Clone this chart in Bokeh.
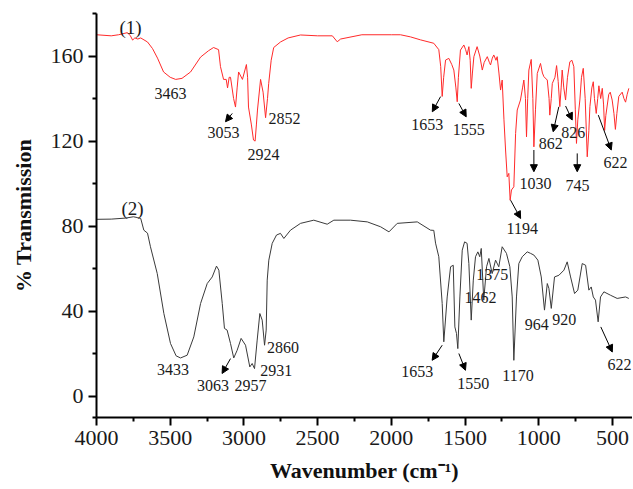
from bokeh.plotting import figure
from bokeh.models import Range1d, FixedTicker, ColumnDataSource, Arrow, NormalHead
from bokeh.core.properties import value
from bokeh.embed import file_html
from bokeh.resources import INLINE

# ---- spectrum (1), red ----
wn1 = [4000, 3900, 3850, 3790, 3770, 3755, 3740, 3720, 3700, 3654, 3620, 3586, 3545, 3500, 3463,
       3420, 3362, 3294, 3240, 3206, 3172, 3159, 3138, 3120, 3111, 3100, 3091, 3070, 3057, 3046,
       3036, 3010, 2983, 2975, 2969, 2950, 2935, 2924, 2915, 2908, 2887, 2870, 2853, 2840, 2832,
       2815, 2798, 2752, 2700, 2616, 2500, 2400, 2367, 2344, 2200, 2000, 1938, 1870, 1802, 1712,
       1678, 1665, 1655, 1645, 1632, 1610, 1590, 1576, 1562, 1553, 1545, 1531, 1508, 1496, 1486,
       1474, 1465, 1458, 1450, 1440, 1418, 1400, 1383, 1370, 1349, 1335, 1327, 1315, 1305, 1290,
       1282, 1270, 1259, 1248, 1236, 1225, 1214, 1203, 1194, 1185, 1169, 1157, 1146, 1124, 1110,
       1101, 1090, 1083, 1075, 1067, 1051, 1040, 1033, 1022, 1010, 988, 975, 965, 942, 930,
       925, 915, 908, 890, 879, 868, 857, 848, 841, 830, 818, 805, 789, 775, 762,
       752, 744, 735, 721, 710, 698, 685, 671, 660, 653, 640, 630, 622, 610, 600,
       592, 580, 569, 560, 553, 545, 525, 515, 502, 490, 480, 470, 457, 434, 422,
       411, 400, 389]
t1 = [170, 169.5, 170, 171, 169.5, 167.5, 168.5, 168, 168.5, 166.6, 163.5, 159, 152.5, 150, 149,
      149.5, 152.5, 159.5, 162.5, 164, 163, 155, 149, 149, 145, 150, 150, 140, 136, 145,
      152.5, 149, 156, 150, 136, 128, 120.5, 120, 128, 134.6, 149, 143, 131, 140, 147,
      158, 164, 166.6, 168.5, 169.9, 169.5, 169.5, 166.7, 168, 170, 170, 170, 169, 167.6, 166,
      163, 155, 141, 150, 158.1, 158.9, 156, 153.4, 145, 138.5, 150, 162.8, 165.2, 163, 160.5,
      164.4, 158, 144.8, 152, 159.7, 164.4, 160, 153.4, 157, 159.7, 157, 155.8, 159, 160.5, 158,
      159.7, 152, 144, 148.7, 130, 115.8, 103.2, 104.8, 92.2, 97, 98.5, 123.6, 134.6, 139.3, 145,
      148.7, 140, 122, 140, 153.4, 158.4, 140, 117.3, 135, 151.8, 156.5, 152, 150.3, 148.7, 140,
      132.2, 140, 147.1, 150, 155.5, 148, 136.2, 145, 153.4, 145, 139.3, 150, 157.3, 158, 155,
      135, 118.9, 130, 139.3, 150, 154.2, 140, 112.6, 125, 136.2, 145, 147.9, 140, 133, 140,
      146, 140, 144.8, 137, 125, 132, 142, 143, 139.3, 133, 125.5, 133, 141, 143, 140,
      138.3, 142, 144.8]

# ---- spectrum (2), black ----
wn2 = [4000, 3900, 3800, 3750, 3720, 3700, 3679, 3654, 3634, 3588, 3543, 3498, 3460, 3430, 3385,
       3340, 3294, 3249, 3215, 3186, 3170, 3147, 3132, 3114, 3091, 3069, 3046, 3019, 2989, 2960,
       2944, 2928, 2910, 2892, 2876, 2860, 2849, 2842, 2831, 2808, 2779, 2752, 2729, 2684, 2616,
       2526, 2435, 2390, 2277, 2163, 2073, 2016, 1960, 1824, 1734, 1712, 1700, 1678, 1655, 1644,
       1621, 1598, 1580, 1569, 1558, 1549, 1535, 1519, 1503, 1486, 1474, 1458, 1444, 1429, 1413,
       1400, 1390, 1373, 1354, 1338, 1316, 1293, 1271, 1248, 1219, 1196, 1180, 1169, 1151, 1135,
       1112, 1078, 1056, 1033, 1006, 983, 961, 942, 931, 915, 893, 863, 829, 807, 784,
       757, 735, 705, 682, 660, 644, 630, 615, 597, 581, 558, 513, 468, 411, 389]
t2 = [83.2, 83.3, 83.8, 84.4, 84, 83.6, 78.1, 76.7, 70.3, 57.7, 38.9, 24.8, 19, 18, 19.3,
      27.9, 43.6, 53, 56.1, 61.2, 59.3, 43.6, 31.9, 31.1, 24.8, 18, 21.6, 27.2, 24, 13.8,
      15.4, 13, 26.4, 38.9, 35.8, 24, 31.1, 54.6, 64, 71.9, 75.8, 76.6, 74.2, 78.1, 81.3,
      82.8, 80.9, 82.8, 82.8, 82, 79.7, 77.3, 81.3, 82, 78.1, 78, 72, 65.6, 43.6, 25.6,
      46.7, 60.9, 61.6, 32.6, 29.5, 22.4, 46.7, 68.7, 72.6, 71.9, 62.4, 35.8, 54.6, 65.6, 67.9,
      65.6, 69.5, 45.2, 60.9, 64.8, 57.7, 64, 60.9, 70.3, 67.2, 60.9, 46.7, 16.9, 46.7, 62.4,
      65.6, 67.9, 67.2, 66.4, 64, 56.1, 40.5, 53, 50.7, 41.3, 56.1, 56.9, 59.3, 63.2, 56.1,
      48.3, 49.9, 62.4, 61.6, 49.9, 51.4, 46.7, 45.2, 35, 46.7, 49.1, 47.5, 46, 46.7, 46]

# ---- peak labels ----
lab_text = ["3463", "3053", "2924", "2852", "1653", "1555", "1194", "1030", "862", "826", "745", "622",
            "3433", "3063", "2957", "2931", "2860", "1653", "1550", "1462", "1375", "1170", "964", "920", "622"]
lab_x = [3498, 3138, 2867, 2725, 1757, 1474, 1112, 1022, 918, 766, 737, 479,
         3481, 3210, 2955, 2780, 2735, 1825, 1445, 1395, 1316, 1141, 1013, 827, 452]
lab_y = [142.6, 123.8, 113.9, 130.4, 128, 125.6, 79, 100, 118.9, 124, 99.3, 110,
         12.7, 5.2, 5.2, 12.2, 23, 11.4, 5.9, 46.4, 57.4, 9.9, 33.9, 36.2, 15]

# ---- arrows (start -> end) ----
arr_x0 = [3079, 1666, 1542, 1191, 1033, 864, 818, 739, 596, 3091, 1655, 1542, 579]
arr_y0 = [133.0, 140.9, 137.7, 92.2, 115.8, 136.1, 136.5, 114.2, 132.2, 17.7, 24.0, 20.1, 32.6]
arr_x1 = [3125, 1722, 1492, 1123, 1033, 902, 773, 739, 508, 3148, 1723, 1497, 501]
arr_y1 = [129.1, 133.8, 131.4, 83.6, 105.6, 124.4, 129.9, 105.6, 115.8, 10.7, 16.9, 12.2, 20.8]

# ---- series tags ----
tag_text = ["(1)", "(2)"]
tag_x = [3769, 3756]
tag_y = [173.2, 88.5]

x_ticks = [4000, 3500, 3000, 2500, 2000, 1500, 1000, 500]
x_minor = [3750, 3250, 2750, 2250, 1750, 1250, 750]
y_ticks = [0, 40, 80, 120, 160]
y_minor = [-10, 20, 60, 100, 140, 180]

SERIF = "Liberation Serif"

p = figure(frame_width=536, frame_height=404,
           x_range=Range1d(4000, 364), y_range=Range1d(-10, 180),
           output_backend="svg", toolbar_location=None,
           min_border_left=96, min_border_right=0, min_border_top=13, min_border_bottom=72)
p.outline_line_color = None
p.xgrid.visible = False
p.ygrid.visible = False
p.background_fill_color = "white"
p.border_fill_color = "white"

p.line(wn1, t1, line_color="#ff2a2a", line_width=1)
p.line(wn2, t2, line_color="#3a3a3a", line_width=1)

p.text(x=lab_x, y=lab_y, text=lab_text, text_font=value(SERIF), text_font_size="16px",
       text_align="center", text_baseline="middle", text_color="#1a1a1a")
p.text(x=tag_x, y=tag_y, text=tag_text, text_font=value(SERIF), text_font_size="19px",
       text_align="center", text_baseline="middle", text_color="#1a1a1a")

asrc = ColumnDataSource(dict(x0=arr_x0, y0=arr_y0, x1=arr_x1, y1=arr_y1))
p.add_layout(Arrow(end=NormalHead(size=7, fill_color="black", line_color="black", line_width=1),
                   x_start="x0", y_start="y0", x_end="x1", y_end="y1",
                   source=asrc, line_color="black", line_width=1))

p.xaxis.ticker = FixedTicker(ticks=x_ticks, minor_ticks=x_minor)
p.yaxis.ticker = FixedTicker(ticks=y_ticks, minor_ticks=y_minor)

for ax in (p.xaxis[0], p.yaxis[0]):
    ax.axis_line_width = 2
    ax.axis_line_color = "black"
    ax.major_tick_line_width = 2
    ax.minor_tick_line_width = 2
    ax.major_tick_line_color = "black"
    ax.minor_tick_line_color = "black"
    ax.major_tick_out = 8
    ax.major_tick_in = 0
    ax.minor_tick_out = 4
    ax.minor_tick_in = 0
    ax.major_label_text_font = SERIF
    ax.major_label_text_font_size = "22px"
    ax.major_label_text_color = "#1a1a1a"
    ax.axis_label_text_font = SERIF
    ax.axis_label_text_font_style = "bold"
    ax.axis_label_text_font_size = "22px"
    ax.axis_label_text_color = "#111111"

p.xaxis.major_label_standoff = 5
p.yaxis.major_label_standoff = 5
p.xaxis.axis_label = "Wavenumber (cm\u207b\u00b9)"
p.yaxis.axis_label = "% Transmission"
p.xaxis.axis_label_standoff = 10
p.yaxis.axis_label_standoff = 12

open("out.html", "w").write(file_html(p, INLINE))
